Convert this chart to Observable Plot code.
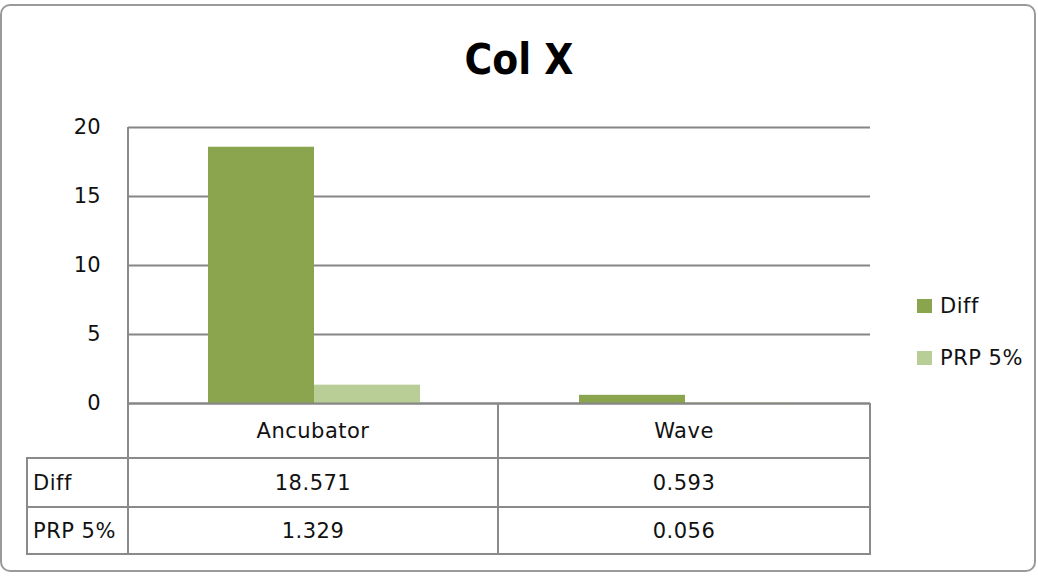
<!DOCTYPE html>
<html>
<head>
<meta charset="utf-8">
<script src="https://cdn.jsdelivr.net/npm/d3@7"></script>
<script src="https://cdn.jsdelivr.net/npm/@observablehq/plot@0.6"></script>
<style>
  html, body { margin: 0; padding: 0; background: #fff; }
  #wrap { position: relative; width: 1038px; height: 576px; overflow: hidden; font-family: "DejaVu Sans", sans-serif; color: #111; }
  #border { position: absolute; left: 0; top: 4px; width: 1036px; height: 568px; box-sizing: border-box; border: 2px solid #9a9a9a; border-radius: 10px; }
  #title { position: absolute; left: 0; width: 1038px; top: 34px; text-align: center; font-family: "DejaVu Sans Condensed", "DejaVu Sans", sans-serif; font-weight: bold; font-size: 42px; line-height: 52px; color: #000; }
  #chart { position: absolute; left: 0; top: 100px; }
  .cell { position: absolute; box-sizing: border-box; display: flex; align-items: center; font-size: 21px; letter-spacing: 0.5px; }
  .line { position: absolute; background: #8a8a8a; }
  .leg { position: absolute; font-size: 21px; letter-spacing: 0.5px; line-height: 24px; }
  .sw { position: absolute; width: 15px; height: 14px; }
</style>
</head>
<body>
<div id="wrap">
  <div id="border"></div>
  <div id="title"></div>
  <div id="chart"></div>
</div>
<script>
const titleText = "Col X";
const categories = ["Ancubator", "Wave"];
const seriesNames = ["Diff", "PRP 5%"];
const diffValues = [18.571, 0.593];
const prpValues = [1.329, 0.056];
const diffLabels = ["18.571", "0.593"];
const prpLabels = ["1.329", "0.056"];
const yTicks = [0, 5, 10, 15, 20];
const seriesColors = ["#8aa54e", "#b9cd96"];

const data = [];
categories.forEach((c, i) => {
  data.push({category: c, series: seriesNames[0], value: diffValues[i]});
  data.push({category: c, series: seriesNames[1], value: prpValues[i]});
});

document.getElementById("title").textContent = titleText;

const chart = Plot.plot({
  width: 1038,
  height: 320,
  marginTop: 27,
  marginBottom: 17,
  marginLeft: 128,
  marginRight: 168,
  style: {fontFamily: "DejaVu Sans, sans-serif", fontSize: "21px", color: "#111", background: "transparent", overflow: "visible"},
  fx: {domain: categories, padding: 0, axis: null},
  x: {domain: seriesNames, paddingInner: 0, paddingOuter: 0.75, axis: null},
  y: {domain: [0, 20], axis: null},
  color: {domain: seriesNames, range: seriesColors},
  marks: [
    Plot.gridY(yTicks, {stroke: "#868686", strokeOpacity: 1, strokeWidth: 2}),
    Plot.barY(data, {fx: "category", x: "series", y: "value", fill: "series"}),
    Plot.ruleY([0], {stroke: "#868686", strokeWidth: 2}),
    Plot.axisY(yTicks, {tickSize: 0, tickPadding: 28, fontSize: 21, fill: "#111", label: null})
  ]
});
document.getElementById("chart").appendChild(chart);

// Data table below the plot (HTML)
const wrap = document.getElementById("wrap");
const colEdges = [27, 128, 498, 870];   // label col | category cols
const rowEdges = [403, 458, 507, 554];  // header | Diff | PRP 5%
function line(x, y, w, h) {
  const d = document.createElement("div");
  d.className = "line";
  Object.assign(d.style, {left: x + "px", top: y + "px", width: w + "px", height: h + "px"});
  wrap.appendChild(d);
}
function cell(text, x0, x1, y0, y1, align) {
  const d = document.createElement("div");
  d.className = "cell";
  Object.assign(d.style, {left: x0 + "px", top: y0 + "px", width: (x1 - x0) + "px", height: (y1 - y0) + "px",
    justifyContent: align === "left" ? "flex-start" : "center", paddingLeft: align === "left" ? "6px" : "0"});
  d.textContent = text;
  wrap.appendChild(d);
}
line(colEdges[1] - 1, 127, 2, rowEdges[1] - 127 + 1);
line(colEdges[2] - 1, rowEdges[0], 2, rowEdges[3] - rowEdges[0] + 1);
line(colEdges[3] - 1, rowEdges[0], 2, rowEdges[3] - rowEdges[0] + 1);
line(colEdges[0] - 1, rowEdges[1], 2, rowEdges[3] - rowEdges[1] + 1);
line(colEdges[1] - 1, rowEdges[1], 2, rowEdges[3] - rowEdges[1] + 1);
for (let r = 1; r < rowEdges.length; r++) line(colEdges[0] - 1, rowEdges[r] - 1, colEdges[3] - colEdges[0] + 1, 2);

categories.forEach((c, i) => cell(c, colEdges[i + 1], colEdges[i + 2], rowEdges[0], rowEdges[1], "center"));
cell(seriesNames[0], colEdges[0], colEdges[1], rowEdges[1], rowEdges[2], "left");
cell(seriesNames[1], colEdges[0], colEdges[1], rowEdges[2], rowEdges[3], "left");
diffLabels.forEach((t, i) => cell(t, colEdges[i + 1], colEdges[i + 2], rowEdges[1], rowEdges[2], "center"));
prpLabels.forEach((t, i) => cell(t, colEdges[i + 1], colEdges[i + 2], rowEdges[2], rowEdges[3], "center"));

// Legend
const legendY = [299, 351];
seriesNames.forEach((s, i) => {
  const sw = document.createElement("div");
  sw.className = "sw";
  Object.assign(sw.style, {left: "917px", top: legendY[i] + "px", background: seriesColors[i]});
  wrap.appendChild(sw);
  const t = document.createElement("div");
  t.className = "leg";
  Object.assign(t.style, {left: "940px", top: (legendY[i] - 5) + "px"});
  t.textContent = s;
  wrap.appendChild(t);
});
</script>
</body>
</html>
